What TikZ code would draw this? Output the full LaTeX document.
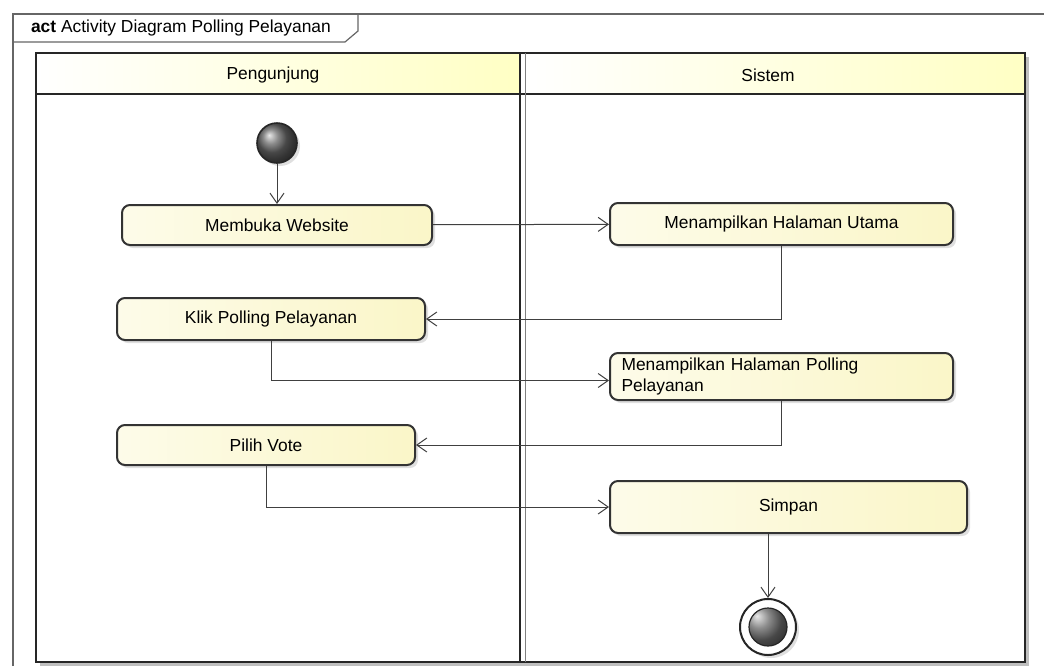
\documentclass[tikz,border=0pt]{standalone}
\usepackage{fontspec}
\setmainfont{Liberation Sans}
\usetikzlibrary{arrows.meta,shadows}
\definecolor{paleyellow}{RGB}{255,255,196}
\definecolor{nodeyellow}{RGB}{250,246,200}
\begin{document}
\begin{tikzpicture}[x=0.5pt,y=-0.5pt,font=\fontsize{8.7}{10.5}\selectfont,>={Straight Barb[length=5pt,width=7pt]},
		activity/.style={draw=black!80,line width=1pt,rounded corners=4pt,left color=white!60!nodeyellow,right color=nodeyellow,drop shadow={opacity=0.25,shadow xshift=1.5pt,shadow yshift=-1.5pt},inner sep=2pt},
		flow/.style={->,draw=black!75,line width=0.5pt},
		lane/.style={draw=black!85,line width=1pt}]
		\useasboundingbox[fill=white] (0,0) rectangle (1044,666);
		% frame and tab
		\draw[black!60,line width=0.6pt] (13,666)--(13,14)--(1044,14);
		\draw[black!60,line width=0.6pt] (13,42)--(345,42)--(358,31)--(358,14);
		\node[anchor=west] (title) at (24,28) {\textbf{act} Activity Diagram Polling Pelayanan};
		% swimlanes
		\fill[black!25] (40,662) rectangle (1029,666);
		\fill[black!25] (1025,57) rectangle (1029,666);
		\shade[left color=white,right color=paleyellow] (36,53) rectangle (520,94);
		\shade[left color=white,right color=paleyellow] (524,53) rectangle (1025,94);
		\draw[lane] (36,53) rectangle (1025,662);
		\draw[lane] (36,94)--(1025,94);
		\draw[lane] (520,53)--(520,662);
		\draw[black!50,line width=0.5pt] (525,53)--(525,662);
		\node (pengunjung) at (273,75) {Pengunjung};
		\node (sistem) at (768,75) {Sistem};
		% activities
		\node[circle,draw=black!85,line width=0.8pt,minimum size=20pt,ball color=black!60,drop shadow={opacity=0.25,shadow xshift=1.5pt,shadow yshift=-1.5pt}] (start) at (277,143) {};
		\node[activity,minimum width=155pt,minimum height=20pt] (membuka) at (277,225) {Membuka Website};
		\node[activity,minimum width=171.5pt,minimum height=21pt] (utama) at (781.5,224) {Menampilkan Halaman Utama};
		\node[activity,minimum width=154pt,minimum height=21pt] (klik) at (271,319) {Klik Polling Pelayanan};
		\node[activity,minimum width=171.5pt,minimum height=23.5pt,text width=160pt,align=left] (polling) at (781.5,376.5) {Menampilkan Halaman Polling\\Pelayanan};
		\node[activity,minimum width=149pt,minimum height=20pt] (pilih) at (266,445) {Pilih Vote};
		\node[activity,minimum width=178.5pt,minimum height=26pt] (simpan) at (788.5,507) {Simpan};
		\node[circle,draw=black!85,line width=1pt,fill=white,minimum size=28pt,drop shadow={opacity=0.25,shadow xshift=1.5pt,shadow yshift=-1.5pt},
			path picture={\shade[ball color=black!60] (path picture bounding box.center) circle (9.5pt);\draw[black!85,line width=0.6pt] (path picture bounding box.center) circle (9.5pt);}] (final) at (768,627) {};
		% flows
		\draw[flow] (start)--(membuka);
		\draw[flow] (membuka)--(utama);
		\draw[flow] (utama.south)|-(klik.east);
		\draw[flow] (klik.south)|-([yshift=-2pt]polling.west);
		\draw[flow] (polling.south)|-(pilih.east);
		\draw[flow] (pilih.south)|-(simpan.west);
		\draw[flow] (simpan.south-|final)--(final);
	\end{tikzpicture}
\end{document}
